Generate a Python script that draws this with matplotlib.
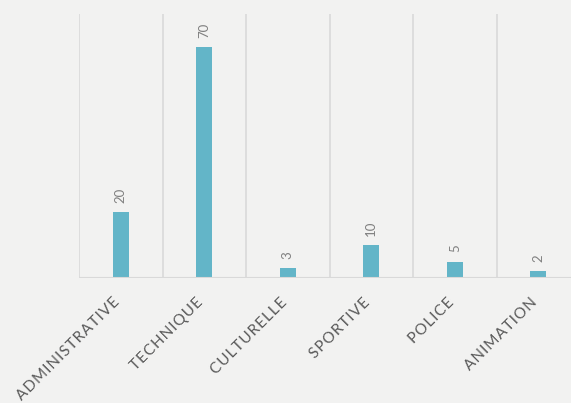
import matplotlib
matplotlib.use("Agg")
import matplotlib.pyplot as plt
from matplotlib.transforms import ScaledTranslation

categories = ["ADMINISTRATIVE", "TECHNIQUE", "CULTURELLE", "SPORTIVE", "POLICE", "ANIMATION"]
values = [20, 70, 3, 10, 5, 2]

bg = "#f2f2f1"
fig = plt.figure(figsize=(5.71, 4.03), dpi=100, facecolor=bg)
ax = fig.add_axes([79/571, 1-278/403, 501/571, (278-14)/403])
ax.set_facecolor(bg)

x = list(range(len(categories)))
ax.bar(x, values, width=0.19, color="#63b5c8", zorder=3)
for xi, v in zip(x, values):
    ax.annotate(str(v), (xi, v), xytext=(0, 6.5), textcoords="offset points",
                rotation=90, ha="center", va="bottom", color="#808080",
                fontsize=9.5, family="Lato")

ax.set_xlim(-0.5, len(categories) - 0.5)
ax.set_ylim(0, 80)
for b in [i - 0.5 for i in range(len(categories) + 1)]:
    ax.axvline(b, color="#d9d9d9", lw=1.2, zorder=1)
ax.axhline(0, color="#d9d9d9", lw=1.5, zorder=4)

for s in ax.spines.values():
    s.set_visible(False)
ax.set_yticks([])
ax.set_xticks(x)
spaced = ["\u200a".join(c) for c in categories]
ax.set_xticklabels(spaced, rotation=45, ha="right", rotation_mode="anchor",
                   color="#5a5a5a", fontsize=11, family=["Lato", "DejaVu Sans"])
ax.tick_params(axis="x", length=0, pad=11)
off = ScaledTranslation(-8/100, -2/100, fig.dpi_scale_trans)
for lab in ax.get_xticklabels():
    lab.set_transform(lab.get_transform() + off)

fig.savefig("out.png", dpi=100, facecolor=bg)
